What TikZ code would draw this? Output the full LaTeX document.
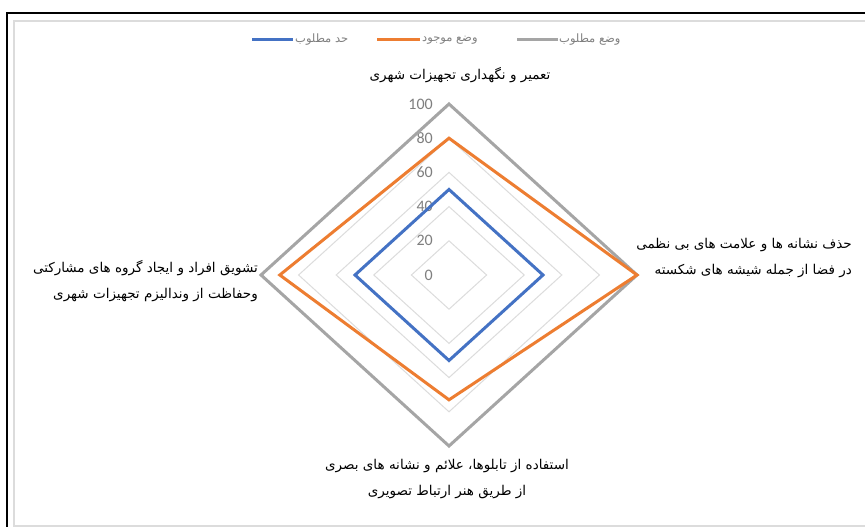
\documentclass[tikz,border=0pt]{standalone}
\usepackage{fontspec}
\newfontfamily\farsi[Script=Arabic]{DejaVu Sans}
\newfontfamily\numfont{Carlito}
\TeXXeTstate=1
\usetikzlibrary{positioning}
\definecolor{reqblue}{HTML}{4472C4}
\definecolor{nowor}{HTML}{ED7D31}
\definecolor{goalgray}{HTML}{A5A5A5}
\definecolor{gridgray}{HTML}{DCDCDC}
\definecolor{numgray}{HTML}{7F7F7F}
\tikzset{
  fa/.style={font=\farsi\fontsize{13.5}{26}\selectfont,inner sep=0pt},
  legtext/.style={font=\farsi\fontsize{11.5}{12}\selectfont,text=numgray,inner sep=0pt,anchor=west},
  ticklab/.style={font=\numfont\fontsize{16}{16}\selectfont,text=numgray,inner sep=0pt,anchor=east},
  serie/.style={line width=3pt}
}

\begin{document}
\begin{tikzpicture}[x=1pt,y=1pt]
\useasboundingbox (0,0) rectangle (865,527);
\fill[white] (0,0) rectangle (865,527);
% frame
\draw[line width=2pt] (7,0) -- (7,514) -- (866,514);
\draw[gridgray,line width=2pt] (866,1) -- (14,1) -- (14,506) -- (866,506);
% legend
\draw[reqblue,serie] (252,487) -- (293,487);
\node[legtext] (lblue) at (295,487) {\beginR حد مطلوب\endR};
\draw[nowor,serie] (377,487) -- (420,487);
\node[legtext] (lor) at (422,487) {\beginR وضع موجود\endR};
\draw[goalgray,serie] (517,487) -- (558,487);
\node[legtext] (lgray) at (559,487) {\beginR وضع مطلوب\endR};
% chart
\begin{scope}[shift={(449pt,252pt)},x=1.88pt,y=1.71pt]
\foreach \r in {20,40,60,80,100}
  \draw[gridgray,line width=1pt] (0,\r) -- (\r,0) -- (0,-\r) -- (-\r,0) -- cycle;
\foreach \r in {0,20,...,100}
  \node[ticklab] (t\r) at ([xshift=-16pt]0,\r) {\r};
\draw[goalgray,serie] (0,100) -- (100,0) -- (0,-100) -- (-100,0) -- cycle;
\draw[nowor,serie] (0,80) -- (100,0) -- (0,-73) -- (-90,0) -- cycle;
\draw[reqblue,serie] (0,50) -- (50,0) -- (0,-50) -- (-50,0) -- cycle;
\end{scope}
% axis labels
\node[fa] (top) at (460,452) {\beginR تعمیر و نگهداری تجهیزات شهری\endR};
\node[fa,align=right,anchor=east] (right) at (852,269)
  {\beginR حذف نشانه ها و علامت های بی نظمی\endR\\\beginR در فضا از جمله شیشه های شکسته\endR};
\node[fa,align=center] (bottom) at (447,48)
  {\beginR استفاده از تابلوها، علائم و نشانه های بصری\endR\\\beginR از طریق هنر ارتباط تصویری\endR};
\node[fa,align=right,anchor=east] (left) at (258,246)
  {\beginR تشویق افراد و ایجاد گروه های مشارکتی\endR\\\beginR وحفاظت از وندالیزم تجهیزات شهری\endR};
\end{tikzpicture}
\end{document}
